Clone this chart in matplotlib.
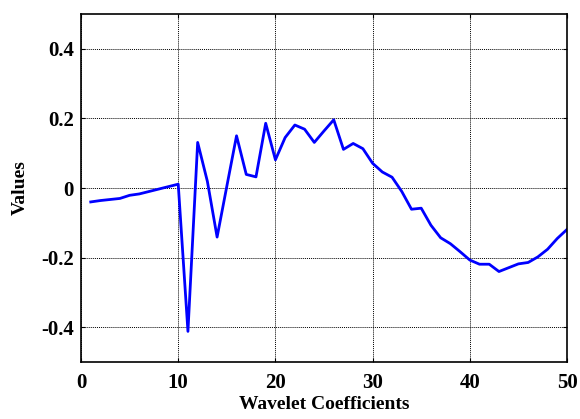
import matplotlib
matplotlib.use("Agg")
import matplotlib.pyplot as plt

# wavelet coefficient index and value
coef_idx = list(range(1, 51))
values = [-0.040, -0.036, -0.033, -0.030, -0.021, -0.017, -0.010, -0.003, 0.004, 0.011,
          -0.412, 0.131, 0.019, -0.141, 0.005, 0.150, 0.039, 0.032, 0.186, 0.081,
          0.145, 0.181, 0.169, 0.131, 0.164, 0.196, 0.111, 0.128, 0.113, 0.071,
          0.046, 0.031, -0.010, -0.061, -0.058, -0.107, -0.143, -0.160, -0.183, -0.207,
          -0.219, -0.219, -0.240, -0.229, -0.218, -0.214, -0.198, -0.176, -0.145, -0.119]

x_ticks = [0, 10, 20, 30, 40, 50]
y_ticks = [-0.4, -0.2, 0, 0.2, 0.4]
y_ticklabels = ["-0.4", "-0.2", "0", "0.2", "0.4"]

plt.rcParams["font.family"] = ["Liberation Serif", "DejaVu Serif"]
plt.rcParams["font.weight"] = "bold"

fig = plt.figure(figsize=(5.8, 4.19), dpi=100)
ax = fig.add_axes([0.1397, 0.136, 0.8379, 0.8306])

ax.plot(coef_idx, values, color=(0, 0, 1), linewidth=2)

ax.set_xlim(0, 50)
ax.set_ylim(-0.5, 0.5)
ax.set_xticks(x_ticks)
ax.set_yticks(y_ticks)
ax.set_yticklabels(y_ticklabels)
ax.tick_params(direction="in", top=True, right=True, length=3, labelsize=15, width=0.8)
ax.tick_params(axis="x", pad=8)
ax.tick_params(axis="y", pad=5)
for lab in ax.get_xticklabels() + ax.get_yticklabels():
    lab.set_fontweight("bold")

ax.grid(True, color="black", linestyle=(0, (1, 1)), linewidth=0.7)
for sp in ax.spines.values():
    sp.set_linewidth(1.2)

ax.set_xlabel("Wavelet Coefficients", fontsize=14, fontweight="bold", labelpad=2)
ax.set_ylabel("Values", fontsize=14, fontweight="bold", labelpad=9)

fig.savefig("out.png", dpi=100)
